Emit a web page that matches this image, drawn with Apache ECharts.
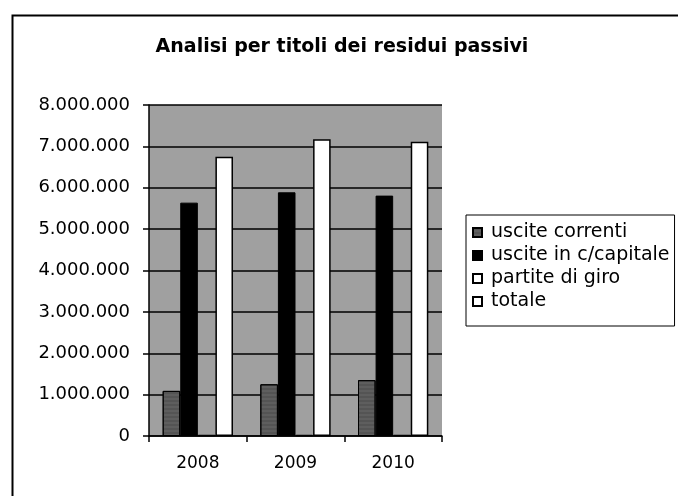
<!DOCTYPE html>
<html>
<head>
<meta charset="utf-8">
<script src="https://cdn.jsdelivr.net/npm/echarts@6/dist/echarts.min.js"></script>
<style>
html,body{margin:0;padding:0;background:#fff;}
#chart{width:678px;height:496px;}
</style>
</head>
<body>
<div id="chart"></div>
<script>
// dati
var anni = ['2008', '2009', '2010'];
var usciteCorrenti = [1090000, 1250000, 1350000];
var usciteCapitale = [5640000, 5890000, 5810000];
var partiteGiro = [20000, 30000, 20000];
var totale = [6750000, 7170000, 7110000];
var yTicks = [0, 1000000, 2000000, 3000000, 4000000, 5000000, 6000000, 7000000, 8000000];

function fmt(v) {
	return String(v).replace(/\B(?=(\d{3})+(?!\d))/g, '.');
}

var myChart = echarts.init(document.getElementById('chart'));
var font = 'DejaVu Sans, Verdana, sans-serif';

var option = {
	animation: false,
	backgroundColor: '#fff',
	title: {
		text: 'Analisi per titoli dei residui passivi',
		left: 337, top: 33, textAlign: 'center',
		textStyle: {fontFamily: font, fontSize: 19, fontWeight: 'bold', color: '#000'}
	},
	graphic: [{
		type: 'rect', left: 10, top: 13, silent: true,
		shape: {width: 720, height: 520},
		style: {fill: 'none', stroke: '#000', lineWidth: 2}
	}],
	legend: {
		orient: 'vertical',
		left: 466, top: 215,
		padding: [8, 5, 15, 6],
		itemGap: 4,
		itemWidth: 9, itemHeight: 9,
		icon: 'rect',
		borderColor: '#000', borderWidth: 1,
		textStyle: {fontFamily: font, fontSize: 19, color: '#000', padding: [0, 0, 0, 4]},
		data: ['uscite correnti', 'uscite in c/capitale', 'partite di giro', 'totale']
	},
	grid: {
		left: 149, right: 236, top: 105, bottom: 60,
		show: true, backgroundColor: '#a0a0a0', borderWidth: 0
	},
	xAxis: {
		type: 'category',
		data: anni,
		axisLine: {lineStyle: {color: '#000', width: 1.5}},
		axisTick: {show: true, length: 6, lineStyle: {color: '#000', width: 1.5}},
		axisLabel: {fontFamily: font, fontSize: 17, color: '#000', margin: 19}
	},
	yAxis: {
		type: 'value',
		min: yTicks[0], max: yTicks[yTicks.length - 1], interval: yTicks[1] - yTicks[0],
		axisLine: {show: true, lineStyle: {color: '#000', width: 1.5}},
		axisTick: {show: true, length: 6, lineStyle: {color: '#000', width: 1.5}},
		splitLine: {show: true, lineStyle: {color: '#000', width: 1.5}},
		axisLabel: {fontFamily: font, fontSize: 18, color: '#000', margin: 19, formatter: fmt}
	},
	series: [
		{
			name: 'uscite correnti', type: 'bar', data: usciteCorrenti,
			barGap: '0%', barCategoryGap: '28%',
			itemStyle: {color: '#5e5e5e', borderColor: '#000', borderWidth: 1,
				decal: {symbol: 'rect', symbolSize: 0.6, dashArrayX: [1, 0], dashArrayY: [2, 2], color: 'rgba(30,30,30,0.5)'}}
		},
		{
			name: 'uscite in c/capitale', type: 'bar', data: usciteCapitale,
			itemStyle: {color: '#000', borderColor: '#000', borderWidth: 1}
		},
		{
			name: 'partite di giro', type: 'bar', data: partiteGiro,
			itemStyle: {color: '#fff', borderColor: '#000', borderWidth: 1.5}
		},
		{
			name: 'totale', type: 'bar', data: totale,
			itemStyle: {color: '#fff', borderColor: '#000', borderWidth: 1.5}
		}
	]
};
myChart.setOption(option);
</script>
</body>
</html>
